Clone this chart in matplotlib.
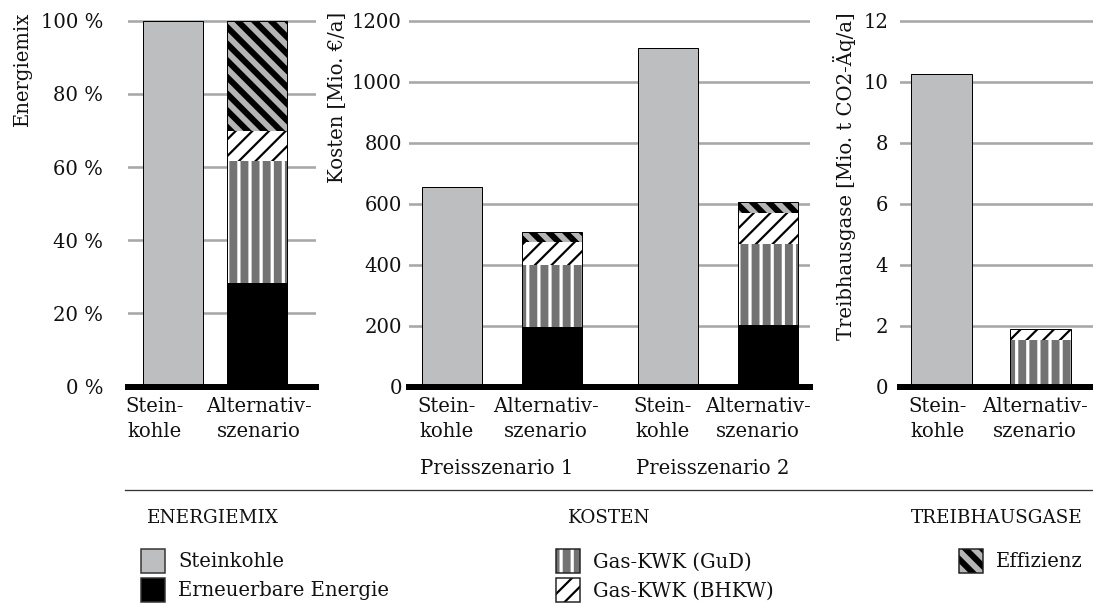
import matplotlib
matplotlib.use('Agg')
import matplotlib.pyplot as plt
import matplotlib.transforms as mtransforms
from matplotlib.patches import Patch
from matplotlib.lines import Line2D
from matplotlib.legend_handler import HandlerTuple, HandlerPatch
import numpy as np

# ---------------- data ----------------
series_names = ['Steinkohle', 'Erneuerbare Energie', 'Gas-KWK (GuD)', 'Gas-KWK (BHKW)', 'Effizienz']

energy_labels = ['Stein-\nkohle', 'Alternativ-\nszenario']
energy_steinkohle = [100.0, 0.0]
energy_erneuerbar = [0.0, 28.3]
energy_gud = [0.0, 33.4]
energy_bhkw = [0.0, 8.2]
energy_effizienz = [0.0, 30.1]
energy_ticks = [0, 20, 40, 60, 80, 100]
energy_ticklabels = ['0 %', '20 %', '40 %', '60 %', '80 %', '100 %']

cost_labels = ['Stein-\nkohle', 'Alternativ-\nszenario', 'Stein-\nkohle', 'Alternativ-\nszenario']
cost_groups = ['Preisszenario 1', 'Preisszenario 2']
cost_steinkohle = [654, 0, 1110, 0]
cost_erneuerbar = [0, 197, 0, 202]
cost_gud = [0, 202, 0, 265]
cost_bhkw = [0, 76, 0, 102]
cost_effizienz = [0, 31, 0, 38]
cost_ticks = [0, 200, 400, 600, 800, 1000, 1200]

ghg_labels = ['Stein-\nkohle', 'Alternativ-\nszenario']
ghg_steinkohle = [10.24, 0.0]
ghg_erneuerbar = [0.0, 0.0]
ghg_gud = [0.0, 1.53]
ghg_bhkw = [0.0, 0.35]
ghg_effizienz = [0.0, 0.0]
ghg_ticks = [0, 2, 4, 6, 8, 10, 12]

legend_headings = ['ENERGIEMIX', 'KOSTEN', 'TREIBHAUSGASE']

# ---------------- styling ----------------
DPI = 200
W, H = 1093, 604
PT = 72.0 / DPI          # points per pixel
FS = 7.05                # font size (pt)
FS_PX = FS / PT

plt.rcParams['font.family'] = ['DejaVu Serif']
plt.rcParams['hatch.linewidth'] = 1.0 * PT

STYLE = {
    'Steinkohle': dict(face='#bdbec0', hatch=None, hcol='#bdbec0', hlw=1),
    'Erneuerbare Energie': dict(face='black', hatch=None, hcol='black', hlw=1),
    'Gas-KWK (GuD)': dict(face='#737373', hatch='|||', hcol='white', hlw=3.2),
    'Gas-KWK (BHKW)': dict(face='white', hatch='////', hcol='black', hlw=2.2),
    'Effizienz': dict(face='#b5b5b5', hatch='\\\\\\\\', hcol='black', hlw=6.0),
}


def set_hlw(p, lw_px):
    try:
        p.set_hatch_linewidth(lw_px * PT)
    except AttributeError:
        pass


class HatchLWHandler(HandlerPatch):
    def create_artists(self, legend, orig_handle, xdescent, ydescent, width, height, fontsize, trans):
        arts = super().create_artists(legend, orig_handle, xdescent, ydescent, width, height, fontsize, trans)
        lw = getattr(orig_handle, '_hlw_px', None)
        if lw is not None:
            for a in arts:
                set_hlw(a, lw)
        return arts


fig = plt.figure(figsize=(W / DPI, H / DPI), dpi=DPI)

Y0 = 386.7     # pixel row of value 0
YTOP = 9.7     # pixel row of axes top
SCALE = 1.03


def fx(px):
    return px / W


def fy(py):
    return 1 - py / H


def make_ax(left_px, right_px, ymax, xlim, ticks, ticklabels, pad_px):
    ax = fig.add_axes([fx(left_px), fy(Y0), (right_px - left_px) / W, (Y0 - YTOP) / H])
    ax.set_ylim(0, ymax * SCALE)
    ax.set_xlim(*xlim)
    ax.set_yticks(ticks)
    ax.set_yticklabels(ticklabels)
    ax.set_xticks([])
    ax.tick_params(axis='y', length=0, labelsize=FS, pad=pad_px * PT, colors='#111111')
    for s in ['left', 'right', 'top']:
        ax.spines[s].set_visible(False)
    ax.spines['bottom'].set_linewidth(6 * PT)
    ax.spines['bottom'].set_color('black')
    ax.spines['bottom'].set_zorder(6)
    ax.yaxis.grid(True, color='#a8a8a8', linewidth=2.6 * PT)
    ax.set_axisbelow(True)
    return ax


def draw_stack(ax, x, width, data):
    x = np.asarray(x, dtype=float)
    bottom = np.zeros(len(x))
    for name, vals in zip(series_names, data):
        vals = np.asarray(vals, dtype=float)
        st = STYLE[name]
        m = vals > 0
        if m.any():
            bars = ax.bar(x[m], vals[m], width, bottom=bottom[m], color=st['face'],
                          edgecolor=st['hcol'], linewidth=0, hatch=st['hatch'], zorder=3)
            for p in bars:
                set_hlw(p, st['hlw'])
        bottom += vals
    ax.bar(x, bottom, width, fill=False, edgecolor='black', linewidth=1.0 * PT, zorder=4)


def xlabels(ax, x, labels, offsets_px):
    for xi, lab, off in zip(x, labels, offsets_px):
        tr = mtransforms.blended_transform_factory(ax.transData, ax.transAxes) + \
            mtransforms.ScaledTranslation(off / DPI, 0, fig.dpi_scale_trans)
        ax.text(xi, -(397 - Y0) / (Y0 - YTOP), lab, transform=tr, ha='center', va='top',
                fontsize=FS, linespacing=1.4, multialignment='center', color='#111111')


# ---- panel 1: Energiemix ----
ax1 = make_ax(128, 316, 100, (-0.536, 1.702), energy_ticks, energy_ticklabels, 25)
x1 = np.arange(len(energy_labels))
draw_stack(ax1, x1, 0.714, [energy_steinkohle, energy_erneuerbar, energy_gud, energy_bhkw, energy_effizienz])
xlabels(ax1, x1, energy_labels, [-18, 2])

# ---- panel 2: Kosten ----
ax2 = make_ax(409, 810, 1200, (-0.43, 3.58), cost_ticks, [str(t) for t in cost_ticks], 7)
x2 = np.array([0, 1, 2.16, 3.16])
draw_stack(ax2, x2, 0.6, [cost_steinkohle, cost_erneuerbar, cost_gud, cost_bhkw, cost_effizienz])
xlabels(ax2, x2, cost_labels, [-5, -6, -5, -10])
for gx, gname in zip(x2[::2], cost_groups):
    tr = mtransforms.blended_transform_factory(ax2.transData, ax2.transAxes) + \
        mtransforms.ScaledTranslation(-32 / DPI, 0, fig.dpi_scale_trans)
    ax2.text(gx, -(459 - Y0) / (Y0 - YTOP), gname, transform=tr, ha='left', va='top',
             fontsize=FS, color='#111111')

# ---- panel 3: Treibhausgase ----
ax3 = make_ax(900, 1093, 12, (-0.42, 1.53), ghg_ticks, [str(t) for t in ghg_ticks], 12)
x3 = np.arange(len(ghg_labels))
draw_stack(ax3, x3, 0.616, [ghg_steinkohle, ghg_erneuerbar, ghg_gud, ghg_bhkw, ghg_effizienz])
xlabels(ax3, x3, ghg_labels, [-4, -6])

# ---- y-axis labels ----
fig.text(fx(22), fy(12), 'Energiemix', rotation=90, ha='center', va='top', fontsize=FS, color='#111111')
fig.text(fx(337), fy(12), 'Kosten [Mio. €/a]', rotation=90, ha='center', va='top', fontsize=FS, color='#111111')
fig.text(fx(845), fy(12), 'Treibhausgase [Mio. t CO2-Äq/a]', rotation=90, ha='center', va='top', fontsize=FS, color='#111111')

# ---- separator ----
fig.add_artist(Line2D([fx(125), 1.0], [fy(490), fy(490)], color='#333333', linewidth=1.3 * PT))

# ---- legends ----
HFS = 6.6
fig.text(fx(147), fy(518), legend_headings[0], ha='left', va='center', fontsize=HFS, color='#111111')
fig.text(fx(568), fy(518), legend_headings[1], ha='left', va='center', fontsize=HFS, color='#111111')
fig.text(fx(1083), fy(518), legend_headings[2], ha='right', va='center', fontsize=HFS, color='#111111')


def handle(name):
    st = STYLE[name]
    if st['hatch'] is None:
        return Patch(facecolor=st['face'], edgecolor='#333333', linewidth=1.5 * PT)
    inner = Patch(facecolor=st['face'], edgecolor=st['hcol'], linewidth=0, hatch=st['hatch'])
    inner._hlw_px = st['hlw']
    set_hlw(inner, st['hlw'])
    outline = Patch(facecolor='none', edgecolor='#222222', linewidth=1.5 * PT)
    return (inner, outline)


hh = (24 / FS_PX - 0.245) / 0.65
leg_kw = dict(loc='upper left', frameon=False, borderpad=0, borderaxespad=0,
              handlelength=24 / FS_PX, handleheight=hh, handletextpad=13 / FS_PX,
              labelspacing=0.25, fontsize=FS,
              handler_map={tuple: HandlerTuple(ndivide=1, pad=0), Patch: HatchLWHandler()})

groups = [(series_names[0:2], 141), (series_names[2:4], 556), (series_names[4:5], 959)]
for names, xpx in groups:
    leg = fig.legend([handle(n) for n in names], names, bbox_to_anchor=(fx(xpx), fy(549)), **leg_kw)
    for t in leg.get_texts():
        t.set_color('#111111')

fig.savefig('out.png', dpi=DPI)
